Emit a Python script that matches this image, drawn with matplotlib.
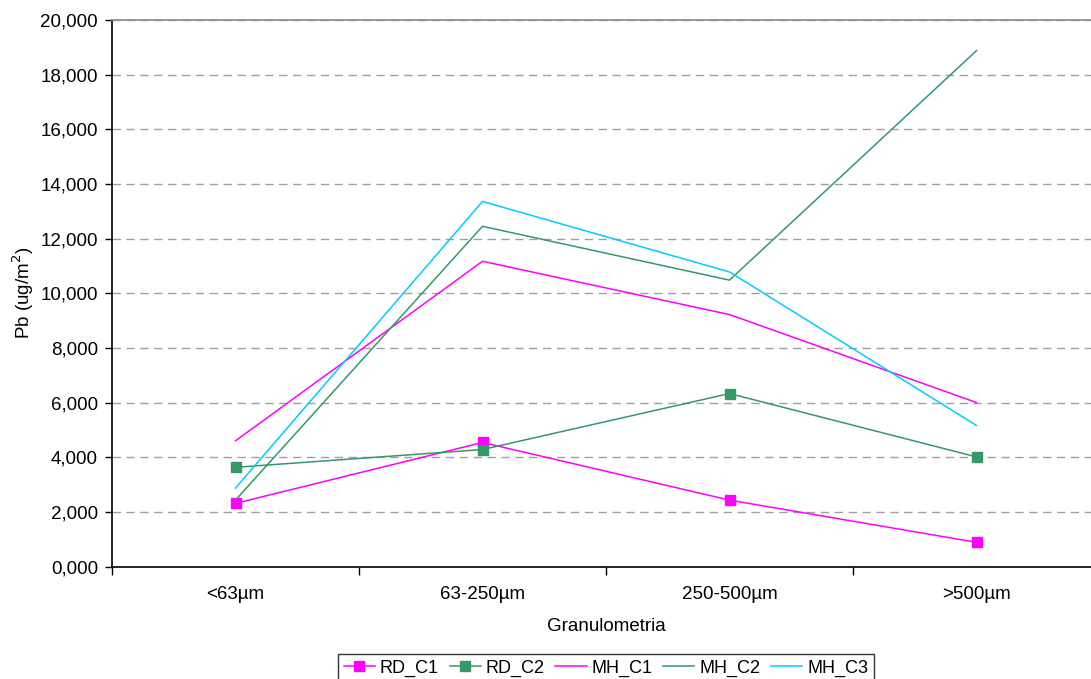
import matplotlib
matplotlib.use("Agg")
import matplotlib.pyplot as plt
from matplotlib.ticker import FixedLocator, FuncFormatter

plt.rcParams['font.family'] = ['Liberation Sans', 'DejaVu Sans']

categories = ["<63µm", "63-250µm", "250-500µm", ">500µm"]
RD_C1 = [2.31, 4.54, 2.43, 0.885]
RD_C2 = [3.63, 4.28, 6.33, 4.01]
MH_C1 = [4.60, 11.17, 9.22, 6.00]
MH_C2 = [2.43, 12.45, 10.48, 18.88]
MH_C3 = [2.87, 13.36, 10.78, 5.16]

series = [
    ("RD_C1", RD_C1, "#FF00FF", "s"),
    ("RD_C2", RD_C2, "#339966", "s"),
    ("MH_C1", MH_C1, "#FF00FF", None),
    ("MH_C2", MH_C2, "#339966", None),
    ("MH_C3", MH_C3, "#00CCFF", None),
]

FS = 13.5
W, H = 1091, 679
fig = plt.figure(figsize=(W / 100, H / 100), dpi=100)
left, right, top, bottom = 112, 1100, 20, 566.5
ax = fig.add_axes([left / W, 1 - bottom / H, (right - left) / W, (bottom - top) / H])

x = list(range(len(categories)))
for name, vals, col, mk in series:
    ax.plot(x, vals, color=col, lw=1.1, marker=mk, markersize=6.5,
            markeredgecolor=col, markerfacecolor=col, label=name, clip_on=False, zorder=3)

ax.set_xlim(-0.5, len(categories) - 0.5)
ax.set_ylim(0, 20)
ax.set_yticks([i * 2 for i in range(11)])
ax.yaxis.set_major_formatter(FuncFormatter(lambda v, p: f"{v:.3f}".replace('.', ',')))

ax.set_xticks(x)
ax.set_xticklabels(categories)
ax.xaxis.set_minor_locator(FixedLocator([i - 0.5 for i in range(len(categories) + 1)]))
ax.tick_params(axis='x', which='major', length=0, pad=14, labelsize=FS)
ax.tick_params(axis='x', which='minor', length=6, width=1, direction='out', color='black')
ax.tick_params(axis='y', which='major', length=5, width=1, direction='out', pad=5, labelsize=FS)

ax.grid(axis='y', which='major', color='#A0A0A0', linestyle=(0, (6, 4)), linewidth=1.0, zorder=0)
ax.set_axisbelow(True)

ax.spines['right'].set_visible(False)
ax.spines['top'].set_color('#909090')
ax.spines['top'].set_linewidth(1.3)
ax.spines['left'].set_linewidth(1.2)
ax.spines['bottom'].set_linewidth(1.2)

ax.set_xlabel("Granulometria", fontsize=FS)
ax.xaxis.set_label_coords(0.5, -0.095)
ax.set_ylabel("Pb (ug/m$^2$)", fontsize=FS)
ax.yaxis.set_label_coords(-0.077, 0.5)

leg = fig.legend(loc='upper center', bbox_to_anchor=(606 / W, 1 - 654 / H), ncol=5,
                 fontsize=13, frameon=True, fancybox=False, edgecolor='black',
                 handlelength=1.72, handletextpad=0.28, columnspacing=0.6,
                 borderpad=0.3, borderaxespad=0, markerscale=1.1)
leg.get_frame().set_linewidth(1.0)

fig.savefig("out.png", dpi=100)
